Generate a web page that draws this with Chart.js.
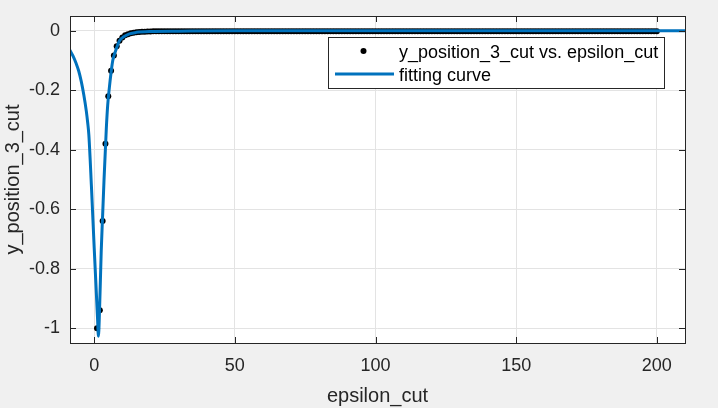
<!DOCTYPE html>
<html>
<head>
<meta charset="utf-8">
<script src="https://cdn.jsdelivr.net/npm/chart.js@4/dist/chart.umd.min.js"></script>
<style>
    html, body { margin: 0; padding: 0; background: #f0f0f0; }
    canvas { display: block; }
</style>
</head>
<body>
<canvas id="fitChart" width="718" height="408"></canvas>
<script>
// measured points: epsilon_cut (x) vs y_position_3_cut (y)
const epsilonCut = [
    1, 2, 3, 4, 5, 6, 7, 8, 9, 10, 11, 12, 13, 14, 15, 16, 17, 18, 19, 20,
    21, 22, 23, 24, 25, 26, 27, 28, 29, 30, 31, 32, 33, 34, 35, 36, 37, 38, 39, 40,
    41, 42, 43, 44, 45, 46, 47, 48, 49, 50, 51, 52, 53, 54, 55, 56, 57, 58, 59, 60,
    61, 62, 63, 64, 65, 66, 67, 68, 69, 70, 71, 72, 73, 74, 75, 76, 77, 78, 79, 80,
    81, 82, 83, 84, 85, 86, 87, 88, 89, 90, 91, 92, 93, 94, 95, 96, 97, 98, 99, 100,
    101, 102, 103, 104, 105, 106, 107, 108, 109, 110, 111, 112, 113, 114, 115, 116, 117, 118, 119, 120,
    121, 122, 123, 124, 125, 126, 127, 128, 129, 130, 131, 132, 133, 134, 135, 136, 137, 138, 139, 140,
    141, 142, 143, 144, 145, 146, 147, 148, 149, 150, 151, 152, 153, 154, 155, 156, 157, 158, 159, 160,
    161, 162, 163, 164, 165, 166, 167, 168, 169, 170, 171, 172, 173, 174, 175, 176, 177, 178, 179, 180,
    181, 182, 183, 184, 185, 186, 187, 188, 189, 190, 191, 192, 193, 194, 195, 196, 197, 198, 199, 200
];
const yPosition3Cut = [
    -1.0, -0.94, -0.64, -0.38, -0.22, -0.134, -0.083, -0.052, -0.033, -0.022,
    -0.015, -0.011, -0.008, -0.006, -0.005, -0.004, -0.003, -0.003, -0.002, -0.002,
    -0.001, -0.001, -0.001, -0.001, -0.001, -0.001, -0.001, -0.001, -0.001, -0.001,
    -0.001, -0.001, -0.001, -0.001, -0.001, -0.001, -0.001, -0.001, -0.001, -0.001,
    -0.001, -0.001, -0.001, -0.001, -0.001, -0.001, -0.001, -0.001, -0.001, -0.001,
    -0.001, -0.001, -0.001, -0.001, -0.001, -0.001, -0.001, -0.001, -0.001, -0.001,
    -0.001, -0.001, -0.001, -0.001, -0.001, -0.001, -0.001, -0.001, -0.001, -0.001,
    -0.001, -0.001, -0.001, -0.001, -0.001, -0.001, -0.001, -0.001, -0.001, -0.001,
    -0.001, -0.001, -0.001, -0.001, -0.001, -0.001, -0.001, -0.001, -0.001, -0.001,
    -0.001, -0.001, -0.001, -0.001, -0.001, -0.001, -0.001, -0.001, -0.001, -0.001,
    -0.001, -0.001, -0.001, -0.001, -0.001, -0.001, -0.001, -0.001, -0.001, -0.001,
    -0.001, -0.001, -0.001, -0.001, -0.001, -0.001, -0.001, -0.001, -0.001, -0.001,
    -0.001, -0.001, -0.001, -0.001, -0.001, -0.001, -0.001, -0.001, -0.001, -0.001,
    -0.001, -0.001, -0.001, -0.001, -0.001, -0.001, -0.001, -0.001, -0.001, -0.001,
    -0.001, -0.001, -0.001, -0.001, -0.001, -0.001, -0.001, -0.001, -0.001, -0.001,
    -0.001, -0.001, -0.001, -0.001, -0.001, -0.001, -0.001, -0.001, -0.001, -0.001,
    -0.001, -0.001, -0.001, -0.001, -0.001, -0.001, -0.001, -0.001, -0.001, -0.001,
    -0.001, -0.001, -0.001, -0.001, -0.001, -0.001, -0.001, -0.001, -0.001, -0.001,
    -0.001, -0.001, -0.001, -0.001, -0.001, -0.001, -0.001, -0.001, -0.001, -0.001,
    -0.001, -0.001, -0.001, -0.001, -0.001, -0.001, -0.001, -0.001, -0.001, -0.001
];

// fitting curve
const fitX = [-8.7, -7.5, -6.4, -5.5, -4.6, -3.7, -2.8, -2.3, -1.9, -1, 0, 0.8, 1.2, 1.5, 1.9,
    2.5, 3, 3.5, 4.3, 4.8, 5.4, 6, 6.6, 7.5, 9, 10.5, 12.5, 15, 20, 30, 50, 100, 150, 210];
const fitY = [-0.064, -0.085, -0.11, -0.135, -0.17, -0.215, -0.27, -0.31, -0.35, -0.52, -0.73, -0.89, -0.97, -1.027, -0.94,
    -0.74, -0.62, -0.50, -0.33, -0.25, -0.19, -0.14, -0.10, -0.07, -0.033, -0.02, -0.01, -0.005, -0.002, -0.001, 0, 0, 0, 0];

const xTicks = [0, 50, 100, 150, 200];
const yTicks = [-1, -0.8, -0.6, -0.4, -0.2, 0];

const pointsLabel = 'y_position_3_cut vs. epsilon_cut';
const curveLabel = 'fitting curve';

const axisColor = '#262626';
const gridColor = '#e3e3e3';
const fontFamily = "'Liberation Sans', Arial, sans-serif";

function RenderChart() {
    const ctx = document.getElementById('fitChart').getContext('2d');

    const data = {
        datasets: [
            {
                label: pointsLabel,
                data: epsilonCut.map((x, i) => ({ x: x, y: yPosition3Cut[i] })),
                showLine: false,
                pointRadius: 3,
                pointBorderWidth: 0,
                pointBackgroundColor: '#000000',
                borderColor: '#000000',
                order: 1
            },
            {
                label: curveLabel,
                data: fitX.map((x, i) => ({ x: x, y: fitY[i] })),
                showLine: true,
                borderColor: '#0072bd',
                borderWidth: 3,
                pointRadius: 0,
                cubicInterpolationMode: 'monotone',
                order: 0
            }
        ]
    };

    // white plot area, box, inward ticks and the legend with a frame
    const matlabAxes = {
        id: 'matlabAxes',
        beforeDraw(chart) {
            const c = chart.ctx;
            const a = chart.chartArea;
            c.save();
            c.fillStyle = '#f0f0f0';
            c.fillRect(0, 0, chart.width, chart.height);
            c.fillStyle = '#ffffff';
            c.fillRect(a.left, a.top, a.right - a.left, a.bottom - a.top);
            c.restore();
        },
        afterDraw(chart) {
            const c = chart.ctx;
            const a = chart.chartArea;
            const xs = chart.scales.x;
            const ys = chart.scales.y;
            const tl = 6;
            c.save();
            c.strokeStyle = axisColor;
            c.lineWidth = 1;
            c.beginPath();
            xTicks.forEach(v => {
                const px = Math.round(xs.getPixelForValue(v)) + 0.5;
                c.moveTo(px, a.bottom); c.lineTo(px, a.bottom - tl);
                c.moveTo(px, a.top); c.lineTo(px, a.top + tl);
            });
            yTicks.forEach(v => {
                const py = Math.round(ys.getPixelForValue(v)) + 0.5;
                c.moveTo(a.left, py); c.lineTo(a.left + tl, py);
                c.moveTo(a.right, py); c.lineTo(a.right - tl, py);
            });
            c.stroke();
            c.strokeRect(Math.round(a.left) + 0.5, Math.round(a.top) + 0.5,
                Math.round(a.right - a.left), Math.round(a.bottom - a.top));

            // legend
            const lx = 328, ly = 37, lw = 336, lh = 51;
            c.fillStyle = '#ffffff';
            c.fillRect(lx, ly, lw, lh);
            c.strokeStyle = axisColor;
            c.strokeRect(lx + 0.5, ly + 0.5, lw, lh);
            c.fillStyle = '#000000';
            c.beginPath();
            c.arc(363.5, 51, 3, 0, Math.PI * 2);
            c.fill();
            c.strokeStyle = '#0072bd';
            c.lineWidth = 3;
            c.beginPath();
            c.moveTo(335, 74); c.lineTo(394, 74);
            c.stroke();
            c.fillStyle = '#000000';
            c.font = '18px ' + fontFamily;
            c.textBaseline = 'middle';
            c.textAlign = 'left';
            c.fillText(pointsLabel, 399, 53);
            c.fillText(curveLabel, 399, 76);
            c.restore();
        }
    };

    const options = {
        responsive: false,
        animation: false,
        layout: {
            padding: { top: 16, right: 33, left: 0, bottom: 0 }
        },
        plugins: {
            legend: { display: false },
            tooltip: { enabled: false }
        },
        scales: {
            x: {
                type: 'linear',
                min: -8.6,
                max: 210,
                afterBuildTicks: scale => { scale.ticks = xTicks.map(v => ({ value: v })); },
                afterFit: scale => {
                    scale.height = 65;
                    scale.paddingLeft = 0;
                    scale.paddingRight = 0;
                },
                grid: { color: gridColor, drawTicks: false },
                border: { display: false },
                ticks: {
                    color: axisColor,
                    padding: 12,
                    maxRotation: 0,
                    font: { family: fontFamily, size: 18 },
                    callback: v => String(v)
                },
                title: {
                    display: true,
                    text: 'epsilon_cut',
                    color: axisColor,
                    font: { family: fontFamily, size: 20 },
                    padding: { top: 0, bottom: 0 }
                }
            },
            y: {
                type: 'linear',
                min: -1.05,
                max: 0.05,
                afterBuildTicks: scale => { scale.ticks = yTicks.map(v => ({ value: v })); },
                afterFit: scale => {
                    scale.width = 70;
                    scale.paddingTop = 0;
                    scale.paddingBottom = 0;
                },
                grid: { color: gridColor, drawTicks: false },
                border: { display: false },
                ticks: {
                    color: axisColor,
                    padding: 10,
                    font: { family: fontFamily, size: 18 },
                    callback: v => String(v)
                },
                title: {
                    display: true,
                    text: 'y_position_3_cut',
                    color: axisColor,
                    font: { family: fontFamily, size: 20 },
                    padding: { top: 1, bottom: 0 }
                }
            }
        }
    };

    const config = {
        type: 'scatter',
        data: data,
        options: options,
        plugins: [matlabAxes]
    };

    new Chart(ctx, config);
}

RenderChart();
</script>
</body>
</html>
